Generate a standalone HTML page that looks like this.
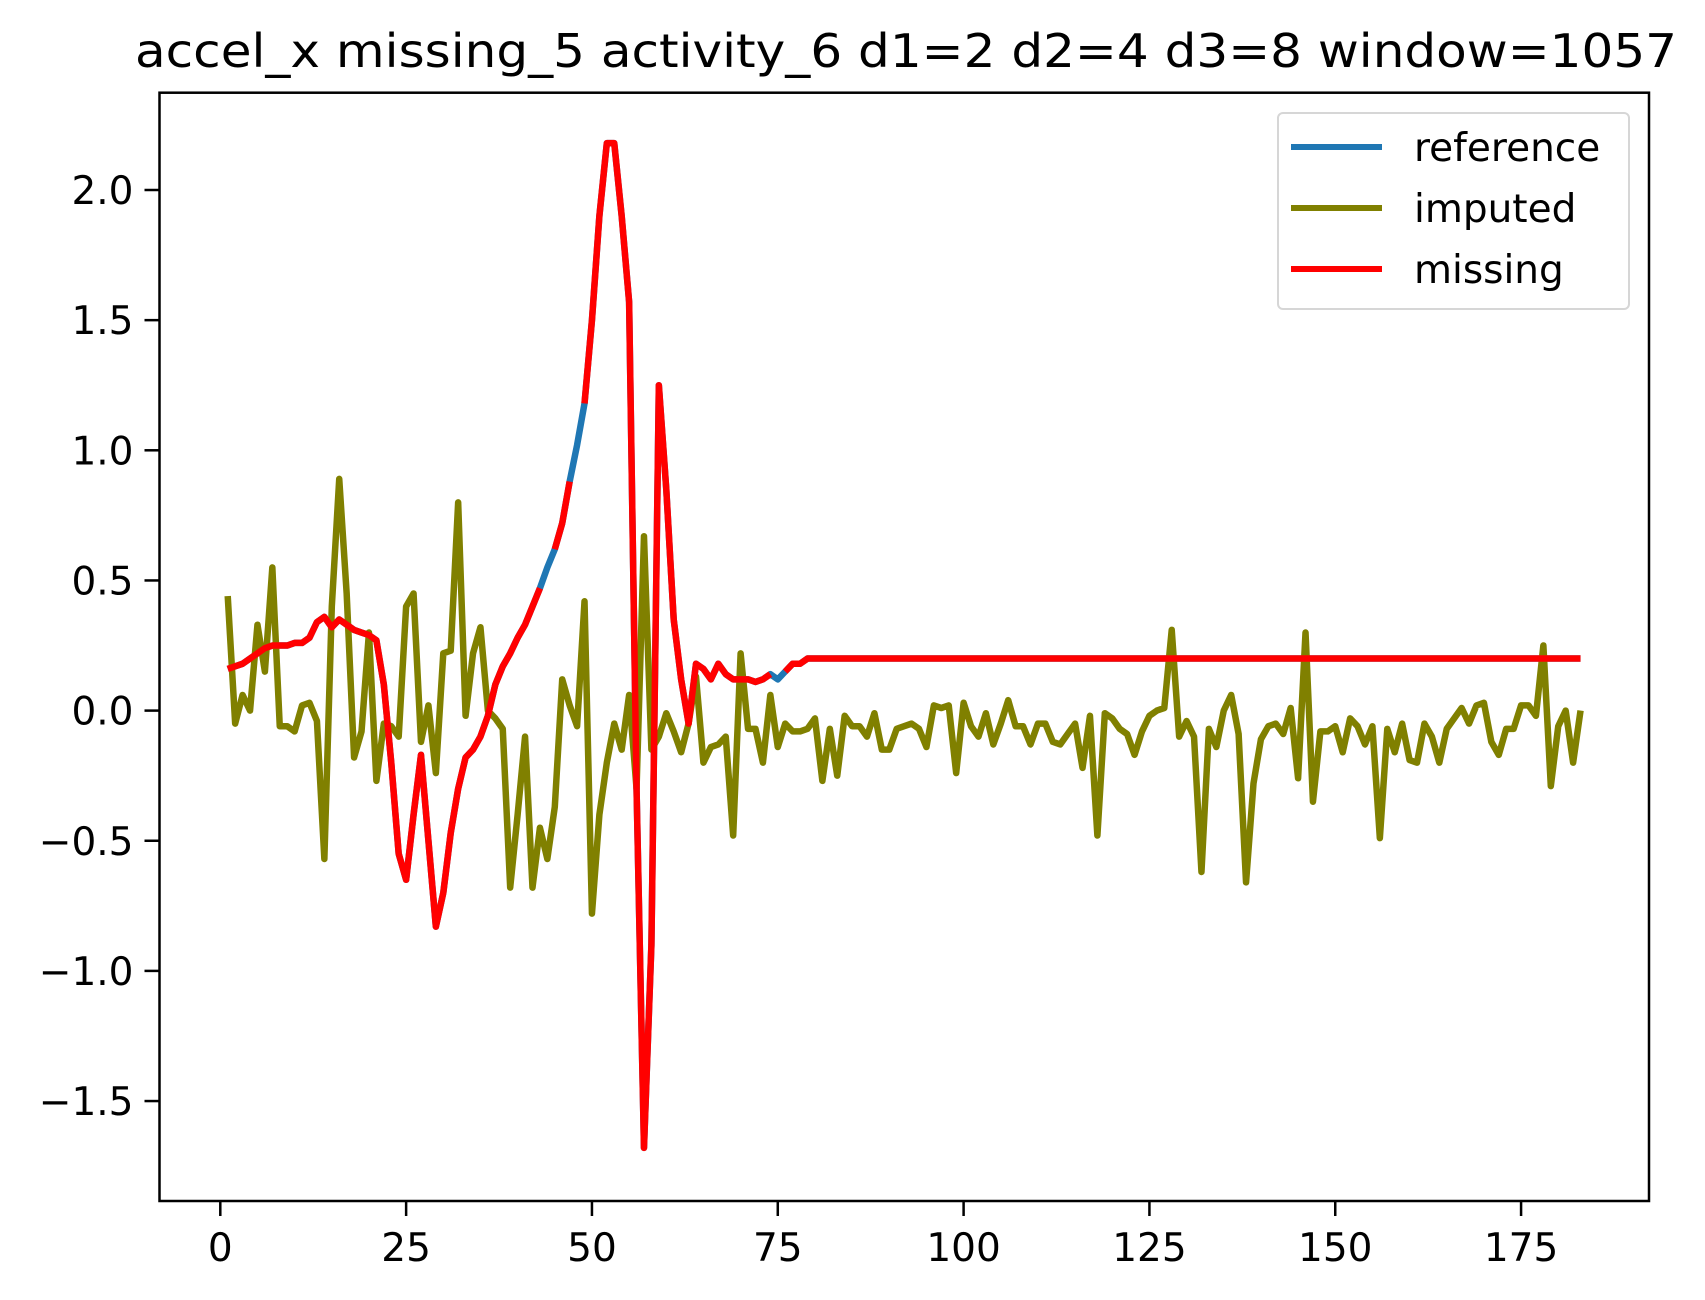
<!DOCTYPE html>
<html><head><meta charset="utf-8"><style>
html,body{margin:0;padding:0;background:#fff;}
svg{display:block;font-family:"DejaVu Sans","Liberation Sans",sans-serif;}
</style></head><body>
<svg id="chart" width="1705" height="1300" viewBox="0 0 1705 1300" xmlns="http://www.w3.org/2000/svg">
<rect x="0" y="0" width="1705" height="1300" fill="#fff"/>
<text x="906" y="67" font-size="46" text-anchor="middle" fill="#000" textLength="1542" lengthAdjust="spacingAndGlyphs">accel_x missing_5 activity_6 d1=2 d2=4 d3=8 window=1057</text>
<g id="series"></g>
<g id="axes"></g>
<g>
<rect x="1278" y="113" width="351" height="196" rx="5" fill="#fff" fill-opacity="0.8" stroke="#d6d6d6" stroke-width="2"/>
<line x1="1291" y1="147" x2="1382" y2="147" stroke="#1f77b4" stroke-width="6"/>
<text x="1414" y="161" font-size="39">reference</text>
<line x1="1291" y1="208" x2="1382" y2="208" stroke="#808000" stroke-width="6"/>
<text x="1414" y="222" font-size="39">imputed</text>
<line x1="1291" y1="269" x2="1382" y2="269" stroke="#ff0000" stroke-width="6"/>
<text x="1414" y="283" font-size="39">missing</text>
</g>
</svg>
<script>
const imputed = [0.44,-0.05,0.06,0.00,0.33,0.15,0.55,-0.06,-0.06,-0.08,0.02,0.03,-0.04,-0.57,0.40,0.89,0.45,-0.18,-0.08,0.30,
-0.27,-0.05,-0.06,-0.10,0.40,0.45,-0.12,0.02,-0.24,0.22,0.23,0.80,-0.02,0.22,0.32,0.00,-0.03,-0.07,-0.68,-0.40,
-0.10,-0.68,-0.45,-0.57,-0.37,0.12,0.02,-0.06,0.42,-0.78,-0.40,-0.20,-0.05,-0.15,0.06,-0.30,0.67,-0.15,-0.10,-0.01,
-0.08,-0.16,-0.05,0.13,-0.20,-0.14,-0.13,-0.10,-0.48,0.22,-0.07,-0.07,-0.20,0.06,-0.14,-0.05,-0.08,-0.08,-0.07,-0.03,
-0.27,-0.07,-0.25,-0.02,-0.06,-0.06,-0.10,-0.01,-0.15,-0.15,-0.07,-0.06,-0.05,-0.07,-0.14,0.02,0.01,0.02,-0.24,0.03,
-0.06,-0.10,-0.01,-0.13,-0.05,0.04,-0.06,-0.06,-0.13,-0.05,-0.05,-0.12,-0.13,-0.09,-0.05,-0.22,-0.02,-0.48,-0.01,-0.03,
-0.07,-0.09,-0.17,-0.08,-0.02,0.00,0.01,0.31,-0.10,-0.04,-0.10,-0.62,-0.07,-0.14,0.00,0.06,-0.09,-0.66,-0.28,-0.11,
-0.06,-0.05,-0.09,0.01,-0.26,0.30,-0.35,-0.08,-0.08,-0.06,-0.16,-0.03,-0.06,-0.13,-0.06,-0.49,-0.07,-0.16,-0.05,-0.19,
-0.20,-0.05,-0.10,-0.20,-0.07,-0.03,0.01,-0.05,0.02,0.03,-0.12,-0.17,-0.07,-0.07,0.02,0.02,-0.02,0.25,-0.29,-0.06,
0.00,-0.20,0.00];
const referenceHead = [0.16,0.17,0.18,0.20,0.22,0.24,0.25,0.25,0.25,0.26,0.26,0.28,0.34,0.36,0.32,0.35,0.33,0.31,0.30,0.29,
0.27,0.10,-0.20,-0.55,-0.65,-0.40,-0.17,-0.50,-0.83,-0.70,-0.47,-0.30,-0.18,-0.15,-0.10,-0.02,0.10,0.17,0.22,0.28,
0.33,0.40,0.47,0.55,0.62,0.72,0.88,1.02,1.18,1.50,1.90,2.18,2.18,1.90,1.57,-0.30,-1.68,-0.90,1.25,0.85,
0.35,0.12,-0.05,0.18,0.16,0.12,0.18,0.14,0.12,0.12,0.12,0.11,0.12,0.14,0.12,0.15,0.18,0.18,0.20];
const referenceTailValue = 0.20;
const missingGaps = [44, 48, 75];
const xTicks = [0,25,50,75,100,125,150,175];
const yTicks = [-1.5,-1.0,-0.5,0.0,0.5,1.0,1.5,2.0];

const reference = referenceHead.slice();
while (reference.length < imputed.length) reference.push(referenceTailValue);
const missing = reference.map((v,i)=> missingGaps.includes(i+1) ? null : v);

const L=159.5, R=1649, T=92.7, B=1201;
const xs = v => 220.3 + v*7.433;
const ys = v => 710.6 - v*260.3;
const NS="http://www.w3.org/2000/svg";
const sg=document.getElementById('series'), ag=document.getElementById('axes');
function mk(tag, attrs, parent){const e=document.createElementNS(NS,tag);for(const k in attrs)e.setAttribute(k,attrs[k]);parent.appendChild(e);return e;}

function paths(arr){
  const segs=[];let cur=[];
  arr.forEach((v,i)=>{ if(v===null){ if(cur.length>1)segs.push(cur); cur=[]; } else cur.push([xs(i+1),ys(v)]); });
  if(cur.length>1)segs.push(cur);
  return segs.map(s=>'M'+s.map(p=>p[0].toFixed(2)+','+p[1].toFixed(2)).join('L')).join(' ');
}
const defs=mk('clipPath',{id:'clip'},sg);
mk('rect',{x:L,y:T,width:R-L,height:B-T},defs);
const pr=mk('path',{d:paths(reference),fill:'none',stroke:'#1f77b4','stroke-width':6.5,'stroke-linejoin':'round','clip-path':'url(#clip)'},sg);


const pi=mk('path',{d:paths(imputed),fill:'none',stroke:'#808000','stroke-width':6.5,'stroke-linejoin':'round','clip-path':'url(#clip)'},sg);


const pm=mk('path',{d:paths(missing),fill:'none',stroke:'#ff0000','stroke-width':6.5,'stroke-linejoin':'round','clip-path':'url(#clip)'},sg);



const frame=mk('rect',{x:L,y:T,width:R-L,height:B-T,fill:'none',stroke:'#000','stroke-width':2.5},ag);


xTicks.forEach(t=>{
  const x=xs(t);
  const tk=mk('line',{x1:x,y1:B,x2:x,y2:B+15,stroke:'#000','stroke-width':2.5},ag);
  
  
  const lb=mk('text',{x:x,y:B+60,'font-size':39,'text-anchor':'middle'},ag);
  
  
  lb.textContent=String(t);
});
yTicks.forEach(t=>{
  const y=ys(t);
  const tk=mk('line',{x1:L-15,y1:y,x2:L,y2:y,stroke:'#000','stroke-width':2.5},ag);
  
  
  const lb=mk('text',{x:L-26,y:y+14,'font-size':39,'text-anchor':'end'},ag);
  
  
  lb.textContent=(t<0?'\u2212':'')+Math.abs(t).toFixed(1);
});
</script>
</body></html>
